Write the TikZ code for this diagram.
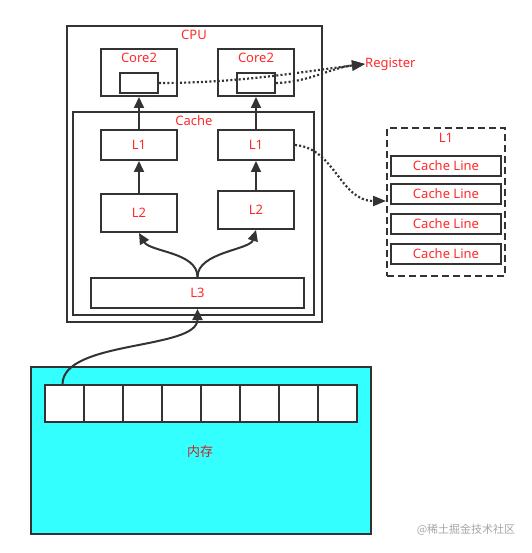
\documentclass[tikz,border=0pt]{standalone}
\usepackage{fontspec}
\setmainfont{Noto Sans}
\newfontfamily\cjk{Noto Sans CJK SC}
\usetikzlibrary{arrows.meta}
\definecolor{lred}{HTML}{FF2A2A}
\definecolor{lgray}{HTML}{333333}
\definecolor{lcyan}{HTML}{33FFFF}
\tikzset{
  box/.style={draw=lgray, line width=2pt, rectangle, inner sep=0pt, fill=white},
  obox/.style={draw=lgray, line width=2pt, rectangle, inner sep=0pt},
  lbl/.style={text=lred, font=\fontsize{13}{15}\selectfont, inner sep=0pt},
  arr/.style={draw=lgray, line width=2pt, -{Triangle[length=11pt,width=10pt]}},
  dotarr/.style={draw=lgray, line width=2.2pt, dash pattern=on 2pt off 2.2pt, -{Triangle[length=13pt,width=10pt]}}
}
\begin{document}
\begin{tikzpicture}[x=1pt,y=-1pt]
\useasboundingbox (0,0) rectangle (531,553);
% CPU
\node[obox, minimum width=255pt, minimum height=296pt] (cpu) at (194.5,174) {};
\node[lbl] (cpul) at (194,35) {CPU};
% cores
\node[box, minimum width=76pt, minimum height=47pt] (core1) at (139,72.5) {};
\node[box, minimum width=76pt, minimum height=47pt] (core2) at (256,72.5) {};
\node[lbl] (core1l) at (139,58) {Core2};
\node[lbl] (core2l) at (256,58) {Core2};
\node[box, minimum width=38pt, minimum height=20pt] (reg1) at (139,83) {};
\node[box, minimum width=38pt, minimum height=20pt] (reg2) at (256,83) {};
% cache
\node[obox, minimum width=241pt, minimum height=203pt] (cache) at (193.5,213.5) {};
\node[lbl] (cachel) at (194,121) {Cache};
\node[box, minimum width=76pt, minimum height=30pt, lbl, text=lred] (l1a) at (139,145) {L1};
\node[box, minimum width=76pt, minimum height=30pt, lbl, text=lred] (l1b) at (256,145) {L1};
\node[box, minimum width=76pt, minimum height=38pt, lbl, text=lred] (l2a) at (139,213) {L2};
\node[box, minimum width=76pt, minimum height=38pt, lbl, text=lred] (l2b) at (256,210) {L2};
\node[box, minimum width=213pt, minimum height=30pt, lbl, text=lred] (l3) at (197.5,293) {L3};
% memory
\node[obox, fill=lcyan, minimum width=340pt, minimum height=167pt] (mem) at (201,450.5) {};
\foreach \i in {1,...,8}{
  \node[box, minimum width=39pt, minimum height=37pt] (c\i) at ({45+39*(\i-0.5)},403.5) {};
}
\node[lbl, text=lred!80!black] (meml) at (200,452) {\cjk 内存};
% L1 detail
\node[obox, dash pattern=on 7pt off 4pt, minimum width=118pt, minimum height=148pt] (l1box) at (446,202) {};
\node[lbl] (l1boxl) at (446,138) {L1};
\node[box, minimum width=110pt, minimum height=20pt, lbl, text=lred] (cl1) at (446,166) {Cache Line};
\node[box, minimum width=110pt, minimum height=20pt, lbl, text=lred] (cl2) at (446,194) {Cache Line};
\node[box, minimum width=110pt, minimum height=20pt, lbl, text=lred] (cl3) at (446,224) {Cache Line};
\node[box, minimum width=110pt, minimum height=20pt, lbl, text=lred] (cl4) at (446,254) {Cache Line};
\coordinate (l1in) at (386,201);
% register
\node[lbl, anchor=west] (reg) at (365,64) {Register};
% arrows
\draw[arr] (l1a.north) -- (core1.south);
\draw[arr] (l1b.north) -- (core2.south);
\draw[arr] (l2a.north) -- (l1a.south);
\draw[arr] (l2b.north) -- (l1b.south);
\draw[arr] (l3.north) .. controls (197.5,252) and (150,252) .. (l2a.south);
\draw[arr] (l3.north) .. controls (197.5,252) and (250,250) .. (l2b.south);
\draw[arr] ([xshift=-2pt]c1.north) .. controls (63,340) and (197.5,350) .. (l3.south);
\draw[dotarr] (reg1.east) .. controls (240,83) and (300,72) .. (reg.west);
\draw[dotarr] (reg2.east) .. controls (310,82) and (330,68) .. (reg.west);
\draw[dotarr] (l1b.east) .. controls (335,148) and (340,201) .. (l1in);
% watermark
\node[text=gray!70, font=\cjk\fontsize{11}{13}\selectfont, inner sep=0pt] (wm) at (466,530) {@稀土掘金技术社区};
\end{tikzpicture}
\end{document}
